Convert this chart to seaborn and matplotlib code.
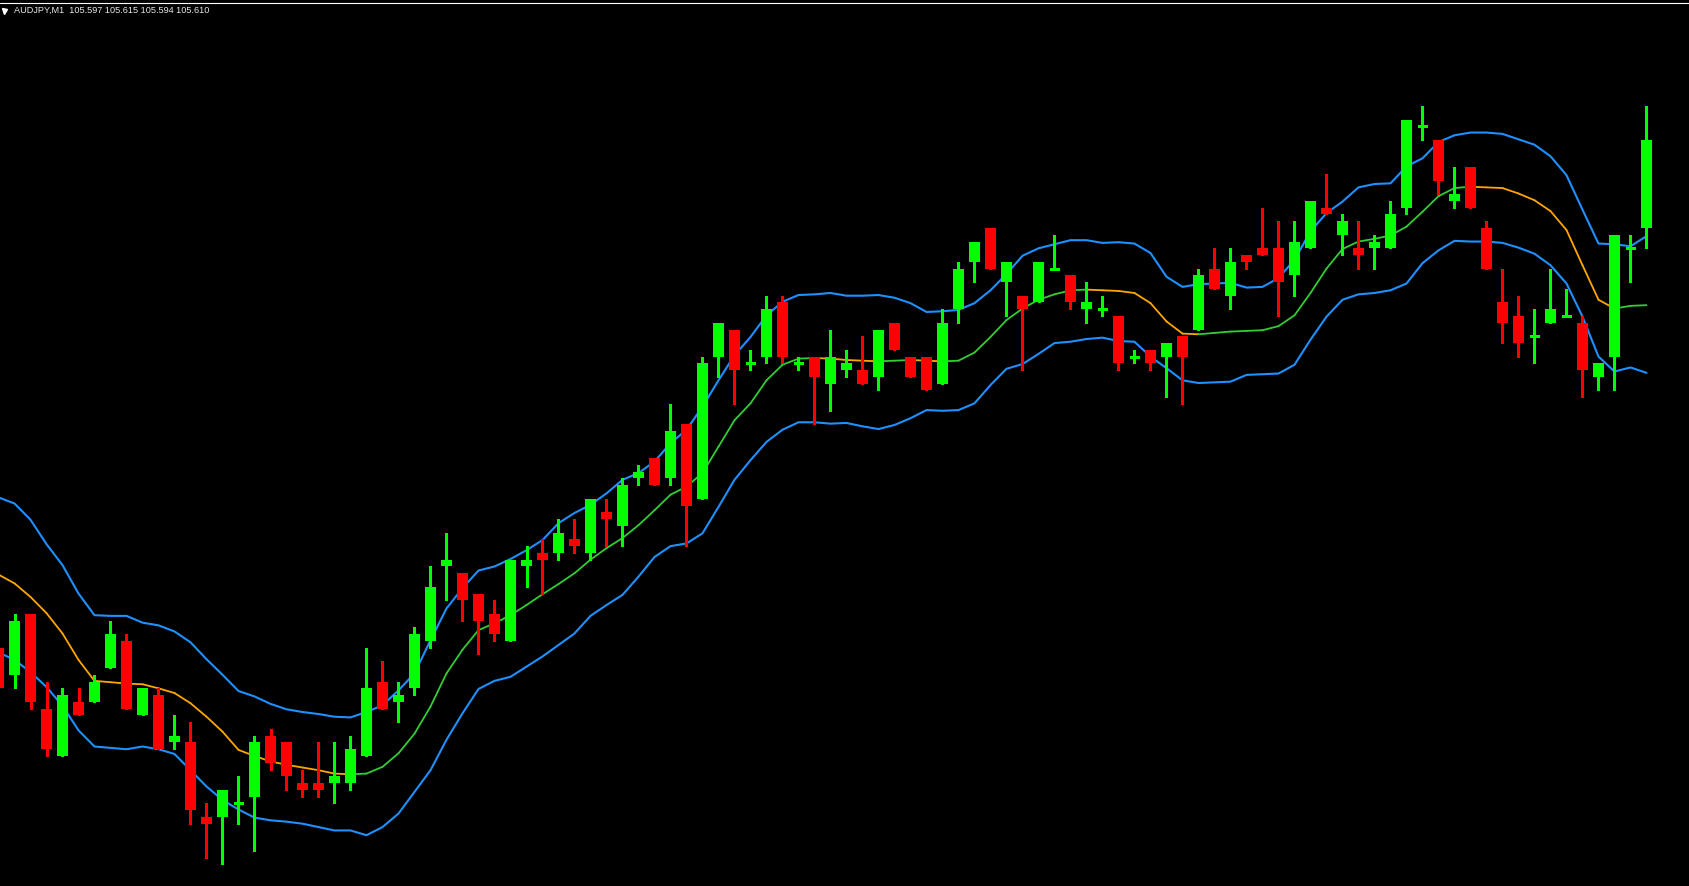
import numpy as np
import pandas as pd
import matplotlib
matplotlib.use("Agg")
import matplotlib.pyplot as plt
from matplotlib.lines import Line2D
import seaborn as sns

SYMBOL = "AUDJPY,M1"

# OHLC of the bars on screen, oldest first (the first one is cut by the left edge)
opens = [
    105.535, 105.531, 105.540, 105.526, 105.519, 105.527, 105.527, 105.532, 105.536, 105.525,
    105.528, 105.521, 105.521, 105.510, 105.510, 105.512, 105.513, 105.522, 105.521, 105.515,
    105.515, 105.515, 105.515, 105.519, 105.530, 105.527, 105.529, 105.536, 105.547, 105.546,
    105.543, 105.540, 105.536, 105.547, 105.549, 105.549, 105.551, 105.549, 105.555, 105.553,
    105.560, 105.563, 105.560, 105.568, 105.557, 105.578, 105.582, 105.577, 105.578, 105.586,
    105.577, 105.578, 105.574, 105.576, 105.576, 105.575, 105.583, 105.578, 105.578, 105.574,
    105.585, 105.592, 105.597, 105.589, 105.587, 105.586, 105.591, 105.590, 105.585, 105.585,
    105.584, 105.578, 105.579, 105.578, 105.581, 105.582, 105.591, 105.587, 105.593, 105.594,
    105.594, 105.590, 105.594, 105.600, 105.596, 105.594, 105.594, 105.594, 105.600, 105.612,
    105.610, 105.601, 105.606, 105.597, 105.586, 105.584, 105.581, 105.583, 105.584, 105.583,
    105.575, 105.578, 105.594, 105.597,
]
highs = [
    105.535, 105.540, 105.540, 105.530, 105.529, 105.529, 105.531, 105.539, 105.537, 105.529,
    105.529, 105.525, 105.524, 105.512, 105.514, 105.516, 105.522, 105.523, 105.521, 105.517,
    105.521, 105.521, 105.522, 105.535, 105.533, 105.530, 105.538, 105.547, 105.552, 105.546,
    105.543, 105.542, 105.548, 105.550, 105.551, 105.554, 105.554, 105.557, 105.557, 105.560,
    105.562, 105.563, 105.571, 105.568, 105.578, 105.583, 105.582, 105.579, 105.587, 105.587,
    105.578, 105.578, 105.582, 105.579, 105.581, 105.582, 105.583, 105.578, 105.578, 105.585,
    105.592, 105.595, 105.597, 105.592, 105.587, 105.592, 105.596, 105.590, 105.589, 105.587,
    105.584, 105.579, 105.579, 105.580, 105.581, 105.591, 105.594, 105.594, 105.593, 105.600,
    105.598, 105.598, 105.601, 105.605, 105.599, 105.598, 105.596, 105.601, 105.613, 105.615,
    105.610, 105.606, 105.606, 105.598, 105.591, 105.587, 105.585, 105.591, 105.588, 105.584,
    105.577, 105.596, 105.596, 105.615,
]
lows = [
    105.529, 105.529, 105.526, 105.519, 105.519, 105.525, 105.527, 105.532, 105.526, 105.525,
    105.520, 105.520, 105.509, 105.504, 105.503, 105.509, 105.505, 105.517, 105.514, 105.513,
    105.513, 105.512, 105.514, 105.519, 105.526, 105.524, 105.528, 105.535, 105.542, 105.539,
    105.534, 105.536, 105.536, 105.544, 105.543, 105.548, 105.549, 105.548, 105.550, 105.550,
    105.559, 105.559, 105.559, 105.550, 105.557, 105.575, 105.571, 105.576, 105.577, 105.577,
    105.576, 105.568, 105.570, 105.575, 105.574, 105.573, 105.579, 105.575, 105.573, 105.574,
    105.583, 105.589, 105.591, 105.584, 105.576, 105.586, 105.591, 105.585, 105.583, 105.584,
    105.576, 105.577, 105.576, 105.572, 105.571, 105.582, 105.588, 105.585, 105.591, 105.593,
    105.584, 105.587, 105.594, 105.599, 105.593, 105.591, 105.591, 105.594, 105.599, 105.610,
    105.602, 105.600, 105.600, 105.591, 105.580, 105.578, 105.577, 105.583, 105.584, 105.572,
    105.573, 105.573, 105.589, 105.594,
]
closes = [
    105.529, 105.539, 105.527, 105.520, 105.528, 105.525, 105.530, 105.537, 105.526, 105.529,
    105.520, 105.522, 105.511, 105.509, 105.514, 105.512, 105.521, 105.518, 105.516, 105.514,
    105.514, 105.516, 105.520, 105.529, 105.526, 105.528, 105.537, 105.544, 105.548, 105.542,
    105.539, 105.537, 105.548, 105.548, 105.548, 105.552, 105.550, 105.557, 105.554, 105.559,
    105.561, 105.559, 105.567, 105.556, 105.577, 105.583, 105.576, 105.577, 105.585, 105.578,
    105.577, 105.575, 105.578, 105.577, 105.574, 105.582, 105.579, 105.575, 105.573, 105.583,
    105.591, 105.595, 105.591, 105.592, 105.585, 105.592, 105.591, 105.586, 105.586, 105.585,
    105.577, 105.578, 105.577, 105.580, 105.578, 105.590, 105.588, 105.592, 105.592, 105.593,
    105.589, 105.595, 105.601, 105.599, 105.598, 105.593, 105.595, 105.599, 105.613, 105.612,
    105.604, 105.602, 105.600, 105.591, 105.583, 105.580, 105.581, 105.585, 105.584, 105.576,
    105.577, 105.596, 105.594, 105.610,
]

# channel indicator: upper band, middle line, lower band
upper = [
    105.5572, 105.5563, 105.5539, 105.5503, 105.5472, 105.5430, 105.5398, 105.5397, 105.5397, 105.5387,
    105.5383, 105.5374, 105.5358, 105.5333, 105.5310, 105.5286, 105.5278, 105.5267, 105.5259, 105.5255,
    105.5252, 105.5248, 105.5247, 105.5255, 105.5265, 105.5287, 105.5312, 105.5361, 105.5408, 105.5438,
    105.5464, 105.5470, 105.5481, 105.5494, 105.5509, 105.5534, 105.5549, 105.5561, 105.5578, 105.5598,
    105.5608, 105.5625, 105.5652, 105.5672, 105.5706, 105.5745, 105.5782, 105.5809, 105.5841, 105.5861,
    105.5871, 105.5872, 105.5874, 105.5870, 105.5870, 105.5871, 105.5867, 105.5859, 105.5846, 105.5847,
    105.5849, 105.5859, 105.5878, 105.5902, 105.5929, 105.5940, 105.5946, 105.5952, 105.5952, 105.5948,
    105.5949, 105.5947, 105.5933, 105.5898, 105.5883, 105.5887, 105.5888, 105.5889, 105.5882, 105.5883,
    105.5896, 105.5923, 105.5965, 105.5992, 105.6009, 105.6030, 105.6035, 105.6036, 105.6061, 105.6073,
    105.6097, 105.6107, 105.6111, 105.6111, 105.6109, 105.6101, 105.6093, 105.6076, 105.6048, 105.5997,
    105.5947, 105.5946, 105.5943, 105.5958,
]
middle = [
    105.5458, 105.5445, 105.5425, 105.5401, 105.5371, 105.5332, 105.5301, 105.5299, 105.5297, 105.5296,
    105.5290, 105.5283, 105.5268, 105.5248, 105.5226, 105.5199, 105.5190, 105.5182, 105.5177, 105.5173,
    105.5169, 105.5164, 105.5163, 105.5164, 105.5174, 105.5194, 105.5223, 105.5263, 105.5312, 105.5347,
    105.5376, 105.5386, 105.5398, 105.5413, 105.5429, 105.5444, 105.5460, 105.5480, 105.5497, 105.5512,
    105.5531, 105.5553, 105.5576, 105.5588, 105.5608, 105.5647, 105.5686, 105.5711, 105.5745, 105.5768,
    105.5777, 105.5778, 105.5777, 105.5775, 105.5774, 105.5773, 105.5774, 105.5775, 105.5774, 105.5773,
    105.5774, 105.5786, 105.5809, 105.5834, 105.5851, 105.5864, 105.5872, 105.5878, 105.5879, 105.5878,
    105.5877, 105.5874, 105.5859, 105.5832, 105.5814, 105.5813, 105.5815, 105.5817, 105.5818, 105.5819,
    105.5825, 105.5841, 105.5874, 105.5910, 105.5939, 105.5950, 105.5954, 105.5959, 105.5972, 105.5994,
    105.6017, 105.6029, 105.6031, 105.6030, 105.6029, 105.6021, 105.6011, 105.5995, 105.5967, 105.5915,
    105.5864, 105.5851, 105.5855, 105.5856,
]
lower = [
    105.5343, 105.5332, 105.5314, 105.5292, 105.5264, 105.5228, 105.5204, 105.5202, 105.5200, 105.5204,
    105.5200, 105.5193, 105.5169, 105.5145, 105.5125, 105.5111, 105.5099, 105.5095, 105.5093, 105.5090,
    105.5085, 105.5080, 105.5080, 105.5073, 105.5085, 105.5105, 105.5137, 105.5169, 105.5214, 105.5253,
    105.5289, 105.5301, 105.5307, 105.5322, 105.5337, 105.5354, 105.5371, 105.5397, 105.5413, 105.5428,
    105.5455, 105.5484, 105.5500, 105.5504, 105.5519, 105.5558, 105.5598, 105.5627, 105.5654, 105.5672,
    105.5683, 105.5683, 105.5681, 105.5682, 105.5677, 105.5673, 105.5679, 105.5689, 105.5701, 105.5700,
    105.5701, 105.5711, 105.5738, 105.5762, 105.5769, 105.5784, 105.5800, 105.5802, 105.5806, 105.5808,
    105.5803, 105.5802, 105.5780, 105.5763, 105.5745, 105.5741, 105.5742, 105.5743, 105.5753, 105.5754,
    105.5755, 105.5768, 105.5805, 105.5839, 105.5864, 105.5872, 105.5874, 105.5878, 105.5888, 105.5918,
    105.5937, 105.5951, 105.5950, 105.5950, 105.5948, 105.5941, 105.5932, 105.5915, 105.5888, 105.5839,
    105.5780, 105.5758, 105.5764, 105.5756,
]

BULL = "#00FF00"
BEAR = "#FF0000"
BAND = "#1E90FF"
MID_UP = "#32CD32"
MID_DOWN = "#FFA500"

W, H = 1689, 886
BAR_PX = 16           # spacing between bars on screen
FIRST_BAR_PX = 14.5   # x pixel of bar 0
PRICE_PER_PX = 0.013 / 88
TOP_PRICE = 105.610 + 140 * PRICE_PER_PX

df = pd.DataFrame({"open": opens, "high": highs, "low": lows, "close": closes})
df["bar"] = np.arange(len(df)) - 1
df["bull"] = df["close"] >= df["open"]
df["color"] = np.where(df["bull"], BULL, BEAR)

sns.set_style("dark", {"axes.facecolor": "black", "figure.facecolor": "black"})

fig = plt.figure(figsize=(W / 100, H / 100), dpi=100)
ax = fig.add_axes([0, 0, 1, 1])

# bands
bands = pd.DataFrame({"bar": df["bar"], "upper": upper, "lower": lower})
bands = bands.melt(id_vars="bar", var_name="band", value_name="price")
sns.lineplot(data=bands, x="bar", y="price", units="band", estimator=None,
             color=BAND, linewidth=1.5, ax=ax, legend=False)

# middle line, green while rising and orange while falling
rows = []
direction = "down"
for i in range(1, len(middle)):
    d = middle[i] - middle[i - 1]
    if d > 0:
        direction = "up"
    elif d < 0:
        direction = "down"
    rows.append((i, df["bar"][i - 1], middle[i - 1], direction))
    rows.append((i, df["bar"][i], middle[i], direction))
mid = pd.DataFrame(rows, columns=["seg", "bar", "price", "dir"])
sns.lineplot(data=mid, x="bar", y="price", units="seg", hue="dir", estimator=None,
             palette={"up": MID_UP, "down": MID_DOWN}, linewidth=1.3, ax=ax, legend=False)

# candles
ax.vlines(df["bar"], df["low"], df["high"], colors=df["color"], linewidth=0.8,
          antialiased=False, zorder=3)
body = (df["close"] - df["open"]).abs()
real = body > 0
ax.bar(df["bar"][real], body[real], bottom=df[["open", "close"]].min(axis=1)[real],
       width=0.69, color=df["color"][real], linewidth=0, antialiased=False, zorder=4)
doji = ~real
ax.hlines(df["open"][doji], df["bar"][doji] - 0.3, df["bar"][doji] + 0.3,
          colors=df["color"][doji], linewidth=0.8, antialiased=False, zorder=4)

left = -FIRST_BAR_PX / BAR_PX
ax.set_xlim(left, left + W / BAR_PX)
ax.set_ylim(TOP_PRICE - H * PRICE_PER_PX, TOP_PRICE)
ax.set_axis_off()

# header line and symbol caption
fig.add_artist(Line2D([0, 1], [1 - 2.5 / H] * 2, color="white", linewidth=0.8,
                      transform=fig.transFigure))
fig.add_artist(Line2D([4.3 / W], [1 - 10.8 / H], marker="v", markersize=3.6,
                      color="white", linestyle="none", transform=fig.transFigure))
caption = f"{SYMBOL}  {opens[-1]:.3f} {highs[-1]:.3f} {lows[-1]:.3f} {closes[-1]:.3f}"
fig.text(14 / W, 1 - 10.8 / H, caption, color="#E8E8E8", fontsize=6.6,
         family=["Liberation Sans", "DejaVu Sans"], va="center", ha="left")

fig.savefig("out.png", dpi=100, facecolor="black")
plt.close(fig)
